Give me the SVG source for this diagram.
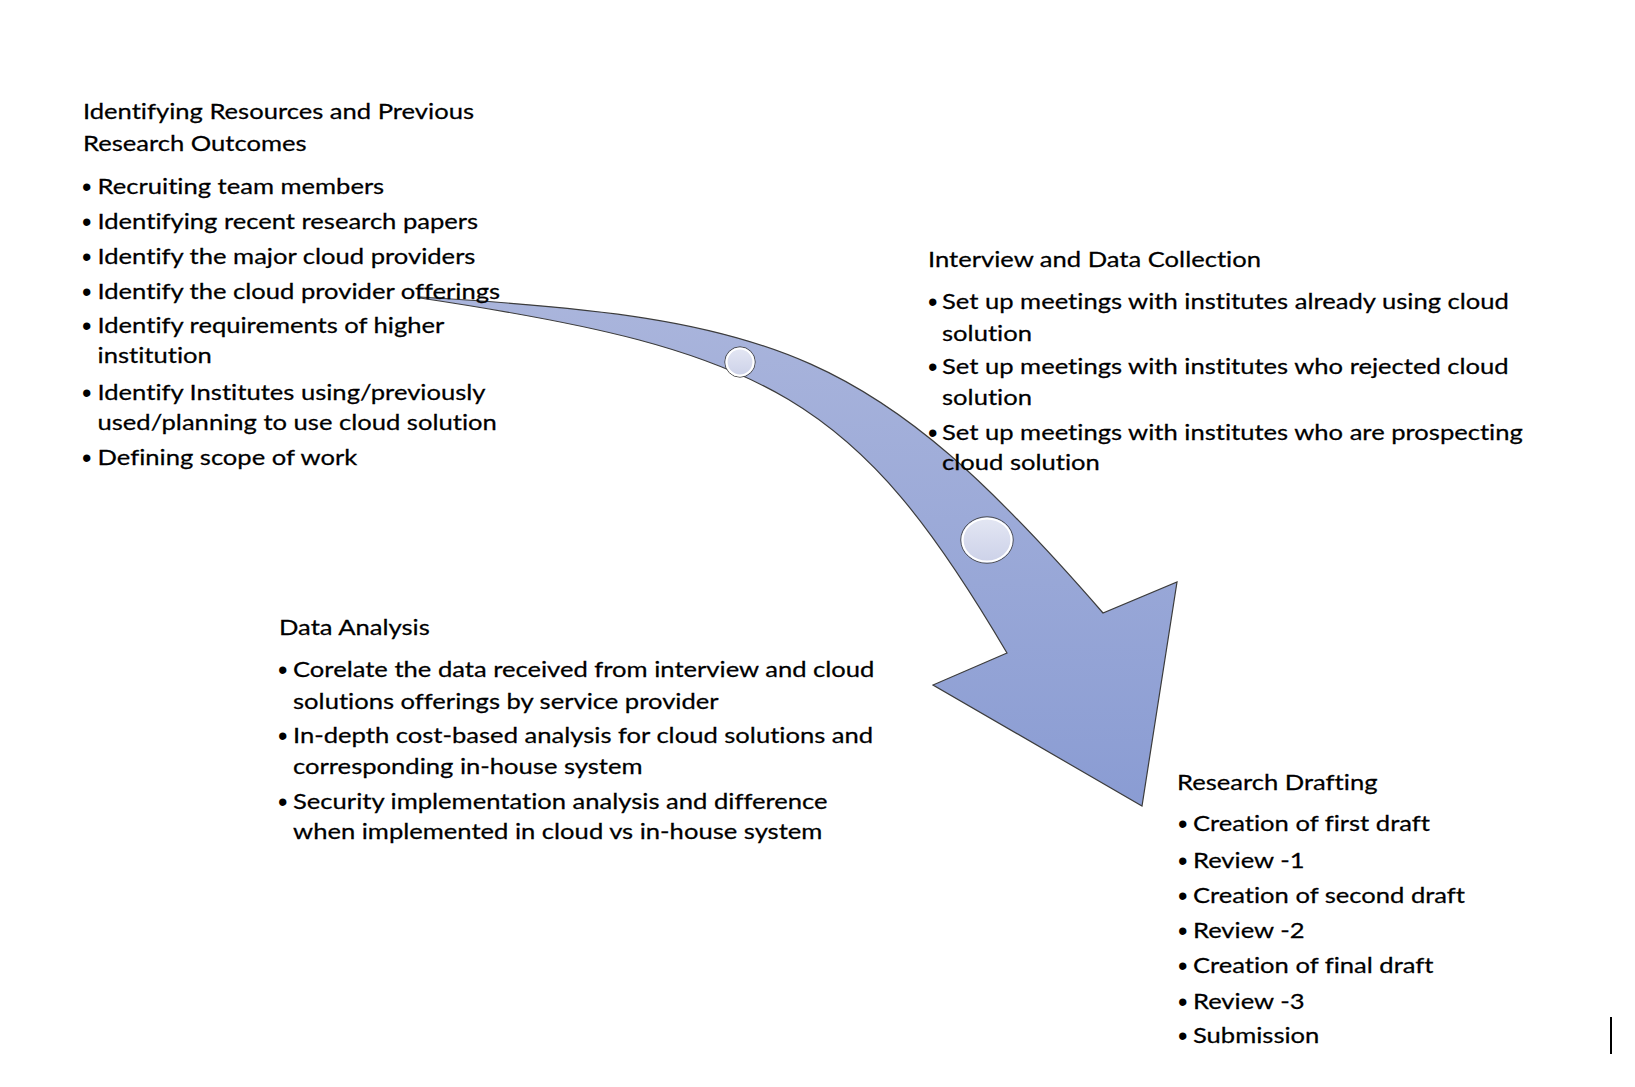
<svg xmlns="http://www.w3.org/2000/svg" width="1635" height="1087" viewBox="0 0 1635 1087">
<style>
  text { font-family: Lato, "Open Sans", "Liberation Sans", sans-serif; font-size: 21.5px; fill: #000; font-variant-ligatures: none; stroke: #000; stroke-width: 0.25; }
  .b { font-family: "Liberation Sans", Arial, sans-serif; font-size: 27px; stroke: none; }
  .arrow { fill: url(#arrowGrad); stroke: #3c3c3c; stroke-width: 1.2; stroke-linejoin: miter; }
  .dot { fill: url(#dotGrad); stroke: #ffffff; stroke-width: 2.2; }
  .dotOut { fill: none; stroke: #4a4a4a; stroke-width: 1; }
</style>
<defs>
  <linearGradient id="arrowGrad" gradientUnits="userSpaceOnUse" x1="0" y1="297" x2="0" y2="806">
    <stop offset="0" stop-color="#aab5dc"/>
    <stop offset="1" stop-color="#8a9cd3"/>
  </linearGradient>
  <linearGradient id="dotGrad" x1="0" y1="0" x2="0" y2="1">
    <stop offset="0" stop-color="#e3e6f3"/>
    <stop offset="1" stop-color="#cdd2e9"/>
  </linearGradient>
</defs>
<rect width="1635" height="1087" fill="#ffffff"/>

<g id="connectors">
  <path class="arrow" d="M420,297 C780,318.6 873,348.5 1103,613 L1177,582 L1142,806 L933,685 L1007,653 C857,398 770,350.5 420,298 Z"/>
  <circle class="dotOut" cx="740" cy="362" r="15.2"/>
  <circle class="dot" cx="740" cy="362" r="13.5"/>
  <ellipse class="dotOut" cx="987" cy="540" rx="26.2" ry="23.2"/>
  <ellipse class="dot" cx="987" cy="540" rx="24.5" ry="21.5"/>
</g>

<g id="node-resources">
  <g transform="translate(83,0) scale(1.19,1)">
    <text x="0" y="119">Identifying Resources and Previous</text>
    <text x="0" y="151">Research Outcomes</text>
    <text x="12.2" y="194">Recruiting team members</text>
    <text x="12.2" y="229">Identifying recent research papers</text>
    <text x="12.2" y="264">Identify the major cloud providers</text>
    <text x="12.2" y="299">Identify the cloud provider offerings</text>
    <text x="12.2" y="333">Identify requirements of higher</text>
    <text x="12.2" y="363">institution</text>
    <text x="12.2" y="400">Identify Institutes using/previously</text>
    <text x="12.2" y="430">used/planning to use cloud solution</text>
    <text x="12.2" y="465">Defining scope of work</text>
  </g>
  <text class="b" x="82" y="195.5">•</text>
  <text class="b" x="82" y="230.5">•</text>
  <text class="b" x="82" y="265.5">•</text>
  <text class="b" x="82" y="300.5">•</text>
  <text class="b" x="82" y="334.5">•</text>
  <text class="b" x="82" y="401.5">•</text>
  <text class="b" x="82" y="466.5">•</text>
</g>

<g id="node-interview">
  <g transform="translate(928,0) scale(1.19,1)">
    <text x="0" y="267">Interview and Data Collection</text>
    <text x="11.8" y="309">Set up meetings with institutes already using cloud</text>
    <text x="11.8" y="341">solution</text>
    <text x="11.8" y="374">Set up meetings with institutes who rejected cloud</text>
    <text x="11.8" y="405">solution</text>
    <text x="11.8" y="440">Set up meetings with institutes who are prospecting</text>
    <text x="11.8" y="470">cloud solution</text>
  </g>
  <text class="b" x="928" y="310.5">•</text>
  <text class="b" x="928" y="375.5">•</text>
  <text class="b" x="928" y="441.5">•</text>
</g>

<g id="node-analysis">
  <g transform="translate(279,0) scale(1.19,1)">
    <text x="0" y="635">Data Analysis</text>
    <text x="11.8" y="677">Corelate the data received from interview and cloud</text>
    <text x="11.8" y="709">solutions offerings by service provider</text>
    <text x="11.8" y="743">In-depth cost-based analysis for cloud solutions and</text>
    <text x="11.8" y="774">corresponding in-house system</text>
    <text x="11.8" y="809">Security implementation analysis and difference</text>
    <text x="11.8" y="839">when implemented in cloud vs in-house system</text>
  </g>
  <text class="b" x="278" y="678.5">•</text>
  <text class="b" x="278" y="744.5">•</text>
  <text class="b" x="278" y="810.5">•</text>
</g>

<g id="node-drafting">
  <g transform="translate(1177,0) scale(1.19,1)">
    <text x="0" y="790">Research Drafting</text>
    <text x="13.4" y="831">Creation of first draft</text>
    <text x="13.4" y="868">Review -1</text>
    <text x="13.4" y="903">Creation of second draft</text>
    <text x="13.4" y="938">Review -2</text>
    <text x="13.4" y="973">Creation of final draft</text>
    <text x="13.4" y="1009">Review -3</text>
    <text x="13.4" y="1043">Submission</text>
  </g>
  <text class="b" x="1178" y="832.5">•</text>
  <text class="b" x="1178" y="869.5">•</text>
  <text class="b" x="1178" y="904.5">•</text>
  <text class="b" x="1178" y="939.5">•</text>
  <text class="b" x="1178" y="974.5">•</text>
  <text class="b" x="1178" y="1010.5">•</text>
  <text class="b" x="1178" y="1044.5">•</text>
</g>

<line x1="1611" y1="1017" x2="1611" y2="1054" stroke="#000" stroke-width="2"/>
</svg>
